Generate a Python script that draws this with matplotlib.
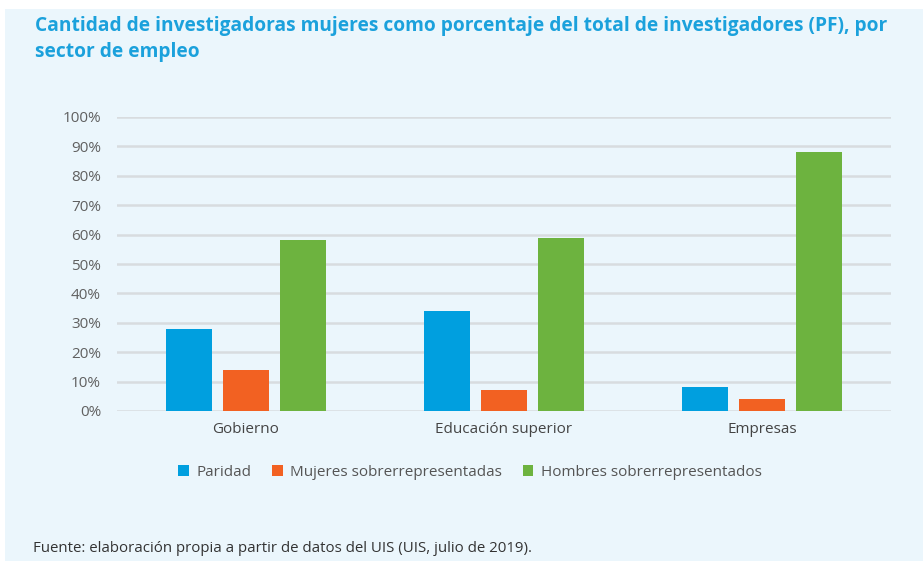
import matplotlib
matplotlib.use("Agg")
import matplotlib.pyplot as plt
import numpy as np
from matplotlib.patches import Rectangle

sectores = ["Gobierno", "Educación superior", "Empresas"]
series = ["Paridad", "Mujeres sobrerrepresentadas", "Hombres sobrerrepresentados"]
paridad = [28, 34, 8]
mujeres = [14, 7, 4]
hombres = [58, 59, 88]
colores = ["#009FDF", "#F26122", "#6DB33F"]
yticks = list(range(0, 101, 10))

plt.rcParams['font.family'] = ['Open Sans', 'DejaVu Sans']

W, H = 923, 561
fig = plt.figure(figsize=(W / 100, H / 100), dpi=100)
fig.patch.set_facecolor("white")
fig.patches.append(Rectangle((5 / W, 0), 1, 1 - 9 / H, transform=fig.transFigure,
                             facecolor="#EBF6FC", edgecolor="none", zorder=-10))

ax = fig.add_axes([117 / W, 1 - 411 / H, (891 - 117) / W, 294 / H])
ax.set_facecolor("none")

x = np.arange(len(sectores))
ancho = 0.175
paso = 0.221
for i, (vals, nombre) in enumerate(zip([paridad, mujeres, hombres], series)):
    ax.bar(x + (i - 1) * paso, vals, ancho, color=colores[i], label=nombre, zorder=3)

ax.set_xlim(-0.5, 2.5)
ax.set_ylim(0, 100)
ax.set_yticks(yticks)
ax.set_yticklabels([f"{t}%" for t in yticks], color="#606060", fontsize=11)
ax.set_xticks(x)
ax.set_xticklabels(sectores, color="#444444", fontsize=11)
ax.tick_params(axis="both", length=0)
ax.tick_params(axis="y", pad=11.5)
ax.tick_params(axis="x", pad=8)
ax.grid(axis="y", color="#D8DCDF", linewidth=1.8, zorder=0)
for s in ax.spines.values():
    s.set_visible(False)

leg = fig.legend(loc="center", bbox_to_anchor=(470 / W, 1 - 472 / H), ncol=3, frameon=False,
                 fontsize=11, handlelength=0.7, handleheight=0.7, handletextpad=0.5,
                 columnspacing=1.35)
for t in leg.get_texts():
    t.set_color("#555555")

titulo = ["Cantidad de investigadoras mujeres como porcentaje del total de investigadores (PF), por",
          "sector de empleo"]
for k, linea in enumerate(titulo):
    fig.text(35 / W, 1 - (26 + 26 * k) / H, linea,
             color="#1BA1DC", fontsize=13.8, fontweight="bold", va="center")
fig.text(33 / W, 1 - 548 / H, "Fuente: elaboración propia a partir de datos del UIS (UIS, julio de 2019).",
         color="#333333", fontsize=10.8, va="center")

fig.savefig("out.png", dpi=100)
